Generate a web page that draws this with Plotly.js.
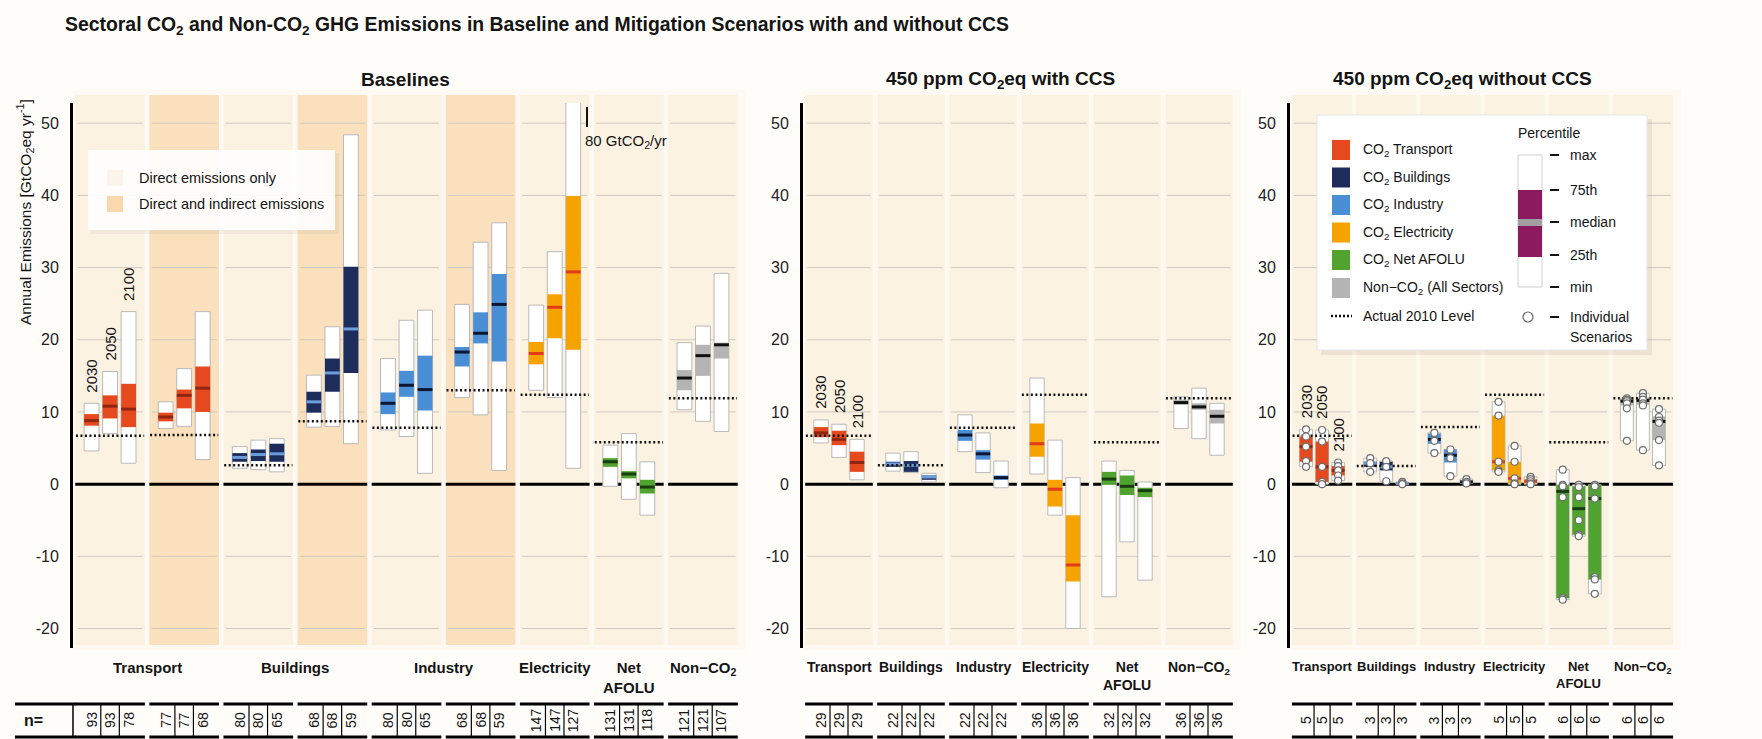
<!DOCTYPE html>
<html><head><meta charset="utf-8">
<script src="https://cdn.plot.ly/plotly-3.0.1.min.js"></script>
<style>html,body{margin:0;padding:0;background:#ffffff}#chart{width:1762px;height:739px}</style>
</head><body><div id="chart"></div>
<script>
// ---------------- DATA ----------------
const years = ['2030', '2050', '2100'];
const yTickVals = [-20, -10, 0, 10, 20, 30, 40, 50];
const yTickText = ['-20', '-10', '0', '10', '20', '30', '40', '50'];

// Baselines (9 groups: direct / direct+indirect)
const baseCategory = ['Transport', 'Transport', 'Buildings', 'Buildings', 'Industry', 'Industry', 'Electricity', 'Net AFOLU', 'Non-CO2'];
const baseIndirect = [false, true, false, true, false, true, false, false, false];
const baseMin = [[4.6, 7.0, 2.9], [7.7, 8.0, 3.4], [2.2, 2.0, 1.7], [7.9, 8.0, 5.6], [7.5, 6.6, 1.5], [12.0, 9.6, 1.9], [13.0, 12.0, 2.2], [-0.3, -2.1, -4.3], [10.3, 8.7, 7.3]];
const baseQ25 = [[8.1, 9.1, 7.9], [8.7, 10.5, 10.0], [3.1, 3.2, 3.1], [9.9, 12.8, 15.4], [9.7, 12.1, 10.2], [16.3, 19.5, 17.0], [16.6, 20.2, 18.6], [2.4, 0.8, -1.3], [13.0, 15.0, 17.4]];
const baseMed = [[8.8, 10.8, 10.4], [9.3, 12.3, 13.3], [3.7, 4.1, 4.2], [11.4, 15.4, 21.5], [11.2, 13.7, 13.1], [18.3, 20.9, 24.9], [18.1, 24.5, 29.4], [3.1, 1.4, -0.4], [14.7, 17.8, 19.3]];
const baseQ75 = [[9.7, 12.3, 13.9], [9.9, 13.1, 16.3], [4.3, 4.8, 5.6], [12.8, 17.4, 30.1], [12.7, 15.7, 17.8], [19.0, 23.8, 29.1], [19.7, 26.3, 39.9], [3.6, 1.8, 0.6], [15.8, 19.3, 19.6]];
const baseMax = [[11.2, 15.6, 23.9], [11.4, 16.0, 23.9], [5.2, 6.1, 6.3], [15.1, 21.8, 48.4], [17.4, 22.7, 24.1], [24.9, 33.5, 36.2], [24.8, 32.2, 80], [5.4, 7.0, 3.1], [19.6, 21.9, 29.2]];
const base2010 = [6.7, 6.8, 2.6, 8.7, 7.8, 13.0, 12.4, 5.8, 11.9];
const baseN = [[93, 93, 78], [77, 77, 68], [80, 80, 65], [68, 68, 59], [80, 80, 65], [68, 68, 59], [147, 147, 127], [131, 131, 118], [121, 121, 107]];

// 450 ppm CO2eq with CCS
const ccsCategory = ['Transport', 'Buildings', 'Industry', 'Electricity', 'Net AFOLU', 'Non-CO2'];
const ccsMin = [[5.7, 3.7, 0.6], [1.8, 1.6, 0.3], [4.5, 1.6, -0.5], [1.4, -4.3, -20.0], [-15.6, -8.0, -13.3], [7.7, 6.3, 4.0]];
const ccsQ25 = [[6.5, 5.4, 1.7], [2.4, 1.7, 0.6], [6.0, 3.4, 0.6], [3.8, -3.1, -13.5], [-0.1, -1.5, -1.8], [11.0, 10.3, 8.4]];
const ccsMed = [[7.1, 6.2, 3.0], [2.8, 2.6, 1.0], [6.8, 4.2, 0.9], [5.6, -0.7, -11.2], [0.7, -0.3, -0.9], [11.3, 10.7, 9.4]];
const ccsQ75 = [[7.9, 7.4, 4.5], [3.1, 3.2, 1.2], [7.5, 4.7, 1.2], [8.4, 0.6, -4.3], [1.7, 1.2, -0.5], [11.7, 11.2, 10.3]];
const ccsMax = [[8.9, 8.3, 6.2], [4.3, 4.5, 1.5], [9.6, 7.1, 3.2], [14.7, 6.1, 0.9], [3.2, 1.9, 0.3], [12.1, 13.3, 11.2]];
const ccs2010 = [6.7, 2.6, 7.8, 12.4, 5.8, 11.9];
const ccsN = [[29, 29, 29], [22, 22, 22], [22, 22, 22], [36, 36, 36], [32, 32, 32], [36, 36, 36]];

// 450 ppm CO2eq without CCS
const nccsCategory = ['Transport', 'Buildings', 'Industry', 'Electricity', 'Net AFOLU', 'Non-CO2'];
const nccsMin = [[2.4, 0.0, 0.5], [1.7, 0.4, 0.0], [4.3, 1.1, 0.1], [1.7, 0.0, 0.0], [-16.0, -7.2, -15.2], [6.0, 4.7, 2.6]];
const nccsQ25 = [[3.1, 0.3, 1.2], [2.4, 1.9, 0.05], [5.6, 3.0, 0.2], [1.9, 0.1, 0.1], [-15.8, -7.0, -13.2], [10.9, 11.0, 6.1]];
const nccsMed = [[5.2, 2.4, 1.9], [2.9, 2.4, 0.1], [6.2, 4.0, 0.3], [3.1, 0.8, 0.4], [-1.0, -3.4, -2.0], [11.5, 11.6, 8.7]];
const nccsQ75 = [[6.6, 5.9, 2.5], [3.1, 3.1, 0.2], [7.0, 4.8, 0.5], [9.5, 3.1, 0.7], [-0.1, -0.3, -0.1], [11.8, 12.0, 9.4]];
const nccsMax = [[7.6, 7.5, 3.0], [3.6, 3.2, 0.3], [7.1, 4.8, 0.7], [11.4, 5.3, 1.0], [2.0, -0.1, -0.1], [11.9, 12.6, 10.4]];
const nccs2010 = [6.7, 2.5, 7.9, 12.4, 5.8, 11.9];
const nccsN = [[5, 5, 5], [3, 3, 3], [3, 3, 3], [5, 5, 5], [6, 6, 6], [6, 6, 6]];
const nccsPoints = [
  [[7.6, 6.6, 5.2, 3.2, 2.4], [7.5, 5.9, 2.4, 0.3, 0.0], [3.0, 2.5, 1.9, 1.2, 0.5]],
  [[3.6, 2.9, 1.7], [3.2, 2.4, 0.4], [0.3, 0.1, 0.0]],
  [[7.1, 6.0, 4.3], [4.8, 3.6, 1.1], [0.7, 0.3, 0.1]],
  [[11.4, 9.5, 3.1, 1.9, 1.7], [5.3, 3.1, 0.8, 0.1, 0.0], [1.0, 0.7, 0.4, 0.1, 0.0]],
  [[2.0, -0.1, -0.3, -1.8, -15.8, -16.0], [-0.1, -0.4, -1.8, -5.0, -7.0, -7.2], [-0.1, -0.3, -2.0, -12.9, -13.2, -15.2]],
  [[11.9, 11.7, 11.5, 11.2, 10.5, 6.0], [12.6, 12.1, 11.7, 11.2, 10.9, 4.7], [10.4, 9.3, 8.8, 8.5, 6.1, 2.6]]
];

const legendSectors = ['CO<sub>2</sub> Transport', 'CO<sub>2</sub> Buildings', 'CO<sub>2</sub> Industry', 'CO<sub>2</sub> Electricity', 'CO<sub>2</sub> Net AFOLU', 'Non\u2212CO<sub>2</sub> (All Sectors)'];
const legendSectorKeys = ['Transport', 'Buildings', 'Industry', 'Electricity', 'Net AFOLU', 'Non-CO2'];
const percentileLabels = ['max', '75th', 'median', '25th', 'min'];

// ---------------- STYLE ----------------
const FONT = "'Liberation Sans', Arial, sans-serif";
const sectorColor = {'Transport': '#e6491d', 'Buildings': '#1c2d5c', 'Industry': '#4a8ed6', 'Electricity': '#f6a300', 'Net AFOLU': '#4fa32e', 'Non-CO2': '#b4b4b4'};
const medianColor = {'Transport': '#8e2612', 'Buildings': '#6c9ddb', 'Industry': '#0d1530', 'Electricity': '#e23a1a', 'Net AFOLU': '#173d10', 'Non-CO2': '#111111'};
const catDisplay = {'Transport': 'Transport', 'Buildings': 'Buildings', 'Industry': 'Industry', 'Electricity': 'Electricity', 'Net AFOLU': 'Net<br>AFOLU', 'Non-CO2': 'Non\u2212CO<sub>2</sub>'};
const GRP_BG = '#fcf2e2', IND_BG = '#fae0bd', GRID_C = '#cfc9c0';
const OFF = [-0.25, 0, 0.25];
const BW = 0.2;
const W = 1762, TOP = 103, BOT = 648;
const px = p => p / W;
const py = p => (BOT - p) / (BOT - TOP);
const Y_RANGE = [-22.7, 52.8];

const panels = [
  {xa: 'x', ya: 'y', dom: [73, 740], cat: baseCategory, ind: baseIndirect, min: baseMin, q25: baseQ25, med: baseMed, q75: baseQ75, max: baseMax, lvl: base2010, n: baseN, pts: null, title: 'Baselines', titleX: 405, catSize: 15},
  {xa: 'x2', ya: 'y2', dom: [803, 1235], cat: ccsCategory, ind: null, min: ccsMin, q25: ccsQ25, med: ccsMed, q75: ccsQ75, max: ccsMax, lvl: ccs2010, n: ccsN, pts: null, title: '450 ppm CO<sub>2</sub>eq with CCS', titleX: 1000, catSize: 14},
  {xa: 'x3', ya: 'y3', dom: [1290, 1675], cat: nccsCategory, ind: null, min: nccsMin, q25: nccsQ25, med: nccsMed, q75: nccsQ75, max: nccsMax, lvl: nccs2010, n: nccsN, pts: nccsPoints, title: '450 ppm CO<sub>2</sub>eq without CCS', titleX: 1462, catSize: 13}
];

const traces = [], shapes = [], annotations = [];
function ann(o) {
  annotations.push(Object.assign({xanchor: 'center', yanchor: 'middle', showarrow: false}, o));
}
function txtFont(size, bold) {
  const f = {size: size, family: FONT, color: '#141414'};
  if (bold) f.weight = 'bold';
  return f;
}
const layout = {
  width: 1762, height: 739,
  margin: {l: 0, r: 0, t: TOP, b: 739 - BOT},
  paper_bgcolor: '#fffdfa', plot_bgcolor: 'rgba(0,0,0,0)',
  barmode: 'overlay', showlegend: false,
  font: {family: FONT, color: '#1a1a1a'},
  shapes: shapes, annotations: annotations
};

panels.forEach((P, pi) => {
  const G = P.cat.length;
  const sfx = pi === 0 ? '' : String(pi + 1);
  layout['xaxis' + sfx] = {domain: [px(P.dom[0]), px(P.dom[1])], range: [-0.5, G - 0.5], visible: false, fixedrange: true, anchor: P.ya};
  layout['yaxis' + sfx] = {domain: [0, 1], range: Y_RANGE, anchor: P.xa, tickvals: yTickVals, ticktext: yTickText,
    showgrid: false, zeroline: false, showline: true, linecolor: '#000', linewidth: 3, ticks: '',
    ticklabelstandoff: 8, tickfont: {size: 16, family: FONT, color: '#222'}, fixedrange: true};

  shapes.push({type: 'rect', xref: 'paper', yref: 'paper', x0: px(P.dom[0]), x1: px(P.dom[1] + 6), y0: py(650), y1: py(90), fillcolor: '#fefaf3', line: {width: 0}, layer: 'below'});

  for (let i = 0; i < G; i++) {
    const bg = (P.ind && P.ind[i]) ? IND_BG : GRP_BG;
    shapes.push({type: 'rect', xref: P.xa, yref: 'paper', x0: i - 0.47, x1: i + 0.47, y0: py(645), y1: py(95), fillcolor: bg, line: {width: 0}, layer: 'below'});
    yTickVals.filter(v => v !== 0).forEach(v => {
      shapes.push({type: 'line', xref: P.xa, yref: P.ya, x0: i - 0.44, x1: i + 0.44, y0: v, y1: v, line: {color: GRID_C, width: 1}, layer: 'below'});
    });
    shapes.push({type: 'line', xref: P.xa, yref: P.ya, x0: i - 0.47, x1: i + 0.47, y0: 0, y1: 0, line: {color: '#000', width: 3}, layer: 'below'});
    [704, 737].forEach(yy => shapes.push({type: 'line', xref: P.xa, yref: 'paper', x0: i - 0.47, x1: i + 0.47, y0: py(yy), y1: py(yy), line: {color: '#000', width: 3}}));
    [-0.125, 0.125].forEach(o => shapes.push({type: 'line', xref: P.xa, yref: 'paper', x0: i + o, x1: i + o, y0: py(704), y1: py(737), line: {color: '#000', width: 1.2}}));
    P.n[i].forEach((nv, j) => ann({xref: P.xa, yref: 'paper', x: i + OFF[j], y: py(720), text: String(nv), textangle: -90, font: txtFont(14, false)}));
  }

  const uniq = [...new Set(P.cat)];
  uniq.forEach(c => {
    const idx = P.cat.map((v, k) => v === c ? k : -1).filter(k => k >= 0);
    const xm = idx.reduce((a, b) => a + b, 0) / idx.length;
    ann({xref: P.xa, yref: 'paper', x: xm, y: py(657), yanchor: 'top', text: catDisplay[c], font: txtFont(P.catSize, true)});
  });

  const xs = [], bMin = [], bRange = [], bQ25 = [], bIQR = [], cols = [];
  const medSeg = {};
  const lvlX = [], lvlY = [];
  const ptX = [], ptY = [];
  for (let i = 0; i < G; i++) {
    for (let j = 0; j < 3; j++) {
      const x = i + OFF[j];
      xs.push(x);
      bMin.push(P.min[i][j]); bRange.push(P.max[i][j] - P.min[i][j]);
      bQ25.push(P.q25[i][j]); bIQR.push(P.q75[i][j] - P.q25[i][j]);
      cols.push(sectorColor[P.cat[i]]);
      const c = P.cat[i];
      if (!medSeg[c]) medSeg[c] = {x: [], y: []};
      medSeg[c].x.push(x - BW / 2, x + BW / 2, null);
      medSeg[c].y.push(P.med[i][j], P.med[i][j], null);
      if (P.pts) P.pts[i][j].forEach(v => { ptX.push(x); ptY.push(v); });
    }
    lvlX.push(i - 0.46, i + 0.46, null); lvlY.push(P.lvl[i], P.lvl[i], null);
  }
  traces.push({type: 'bar', xaxis: P.xa, yaxis: P.ya, x: xs, y: bRange, base: bMin, width: BW,
    marker: {color: '#ffffff', line: {color: '#b9b9b9', width: 1}}, hoverinfo: 'skip'});
  traces.push({type: 'bar', xaxis: P.xa, yaxis: P.ya, x: xs, y: bIQR, base: bQ25, width: BW,
    marker: {color: cols, line: {width: 0}}, hoverinfo: 'skip'});
  Object.keys(medSeg).forEach(c => traces.push({type: 'scatter', mode: 'lines', xaxis: P.xa, yaxis: P.ya, x: medSeg[c].x, y: medSeg[c].y,
    line: {color: medianColor[c], width: 3}, hoverinfo: 'skip'}));
  traces.push({type: 'scatter', mode: 'lines', xaxis: P.xa, yaxis: P.ya, x: lvlX, y: lvlY, line: {color: '#111', width: 2.5, dash: '2px,2.5px'}, hoverinfo: 'skip'});
  if (P.pts) traces.push({type: 'scatter', mode: 'markers', xaxis: P.xa, yaxis: P.ya, x: ptX, y: ptY,
    marker: {symbol: 'circle', size: 7, color: '#ffffff', line: {color: '#6f6f6f', width: 1.2}}, hoverinfo: 'skip'});

  years.forEach((yr, j) => ann({xref: P.xa, yref: P.ya, x: OFF[j], y: P.max[0][j] + 1.2, yanchor: 'bottom', text: yr, textangle: -90, font: txtFont(15, false)}));

  ann({xref: 'paper', yref: 'paper', x: px(P.titleX), y: py(80), text: P.title, font: txtFont(19, true)});
});

shapes.push({type: 'line', xref: 'paper', yref: 'paper', x0: px(15), x1: px(76), y0: py(704), y1: py(704), line: {color: '#000', width: 3}});
shapes.push({type: 'line', xref: 'paper', yref: 'paper', x0: px(15), x1: px(76), y0: py(737), y1: py(737), line: {color: '#000', width: 3}});
shapes.push({type: 'line', xref: 'paper', yref: 'paper', x0: px(73), x1: px(73), y0: py(704), y1: py(737), line: {color: '#000', width: 1.5}});
ann({xref: 'paper', yref: 'paper', x: px(22), y: py(720), xanchor: 'left', text: 'n=', font: txtFont(16, true)});

ann({xref: 'paper', yref: 'paper', x: px(63), y: py(25), xanchor: 'left', text: 'Sectoral CO<sub>2</sub> and Non-CO<sub>2</sub> GHG Emissions in Baseline and Mitigation Scenarios with and without CCS', font: txtFont(19.4, true)});
ann({xref: 'paper', yref: 'paper', x: px(25), y: py(212), text: 'Annual Emissions [GtCO<sub>2</sub>eq yr<sup>-1</sup>]', textangle: -90, font: txtFont(15.5, false)});

shapes.push({type: 'line', xref: 'paper', yref: 'paper', x0: px(587), x1: px(587), y0: py(107), y1: py(127), line: {color: '#111', width: 2}});
ann({xref: 'paper', yref: 'paper', x: px(583), y: py(141), xanchor: 'left', text: '80 GtCO<sub>2</sub>/yr', font: txtFont(15, false)});

// legend 1 (baselines)
shapes.push({type: 'rect', xref: 'paper', yref: 'paper', x0: px(91), x1: px(339), y0: py(234), y1: py(153), fillcolor: 'rgba(120,100,80,0.07)', line: {width: 0}, layer: 'above'});
shapes.push({type: 'rect', xref: 'paper', yref: 'paper', x0: px(88), x1: px(335), y0: py(230), y1: py(150), fillcolor: 'rgba(255,255,255,0.9)', line: {width: 0}, layer: 'above'});
shapes.push({type: 'rect', xref: 'paper', yref: 'paper', x0: px(107), x1: px(123), y0: py(186), y1: py(170), fillcolor: '#fcf4ea', line: {width: 0}, layer: 'above'});
shapes.push({type: 'rect', xref: 'paper', yref: 'paper', x0: px(107), x1: px(123), y0: py(212), y1: py(196), fillcolor: '#fbd8ac', line: {width: 0}, layer: 'above'});
ann({xref: 'paper', yref: 'paper', x: px(137), y: py(178), xanchor: 'left', text: 'Direct emissions only', font: txtFont(14.5, false)});
ann({xref: 'paper', yref: 'paper', x: px(137), y: py(204), xanchor: 'left', text: 'Direct and indirect emissions', font: txtFont(14.5, false)});

// legend 3
shapes.push({type: 'rect', xref: 'paper', yref: 'paper', x0: px(1321), x1: px(1652), y0: py(355), y1: py(119), fillcolor: 'rgba(120,100,80,0.10)', line: {width: 0}, layer: 'above'});
shapes.push({type: 'rect', xref: 'paper', yref: 'paper', x0: px(1317), x1: px(1647), y0: py(350), y1: py(115), fillcolor: '#ffffff', line: {color: '#e6e6e6', width: 1}, layer: 'above'});
const rowY = [150, 177.5, 205, 232.5, 260, 288, 316];
legendSectorKeys.forEach((k, r) => {
  shapes.push({type: 'rect', xref: 'paper', yref: 'paper', x0: px(1332), x1: px(1350), y0: py(rowY[r] + 10), y1: py(rowY[r] - 10), fillcolor: sectorColor[k], line: {width: 0}, layer: 'above'});
  ann({xref: 'paper', yref: 'paper', x: px(1361), y: py(rowY[r]), xanchor: 'left', text: legendSectors[r], font: txtFont(14, false)});
});
shapes.push({type: 'line', xref: 'paper', yref: 'paper', x0: px(1331), x1: px(1352), y0: py(rowY[6]), y1: py(rowY[6]), line: {color: '#111', width: 2.5, dash: '2px,2px'}, layer: 'above'});
ann({xref: 'paper', yref: 'paper', x: px(1361), y: py(rowY[6]), xanchor: 'left', text: 'Actual 2010 Level', font: txtFont(14, false)});
ann({xref: 'paper', yref: 'paper', x: px(1516), y: py(133), xanchor: 'left', text: 'Percentile', font: txtFont(14, false)});
shapes.push({type: 'rect', xref: 'paper', yref: 'paper', x0: px(1518), x1: px(1542), y0: py(287), y1: py(155), fillcolor: '#ffffff', line: {color: '#d0d0d0', width: 1}, layer: 'above'});
shapes.push({type: 'rect', xref: 'paper', yref: 'paper', x0: px(1518), x1: px(1542), y0: py(257), y1: py(190), fillcolor: '#8c1a5e', line: {width: 0}, layer: 'above'});
shapes.push({type: 'rect', xref: 'paper', yref: 'paper', x0: px(1518), x1: px(1542), y0: py(226), y1: py(219), fillcolor: '#a0a0a0', line: {width: 0}, layer: 'above'});
const pctY = [155, 190, 222, 255, 287];
percentileLabels.forEach((t, r) => {
  shapes.push({type: 'line', xref: 'paper', yref: 'paper', x0: px(1550), x1: px(1559), y0: py(pctY[r]), y1: py(pctY[r]), line: {color: '#111', width: 2}, layer: 'above'});
  ann({xref: 'paper', yref: 'paper', x: px(1568), y: py(pctY[r]), xanchor: 'left', text: t, font: txtFont(14, false)});
});
shapes.push({type: 'circle', xref: 'paper', yref: 'paper', x0: px(1523), x1: px(1533), y0: py(322), y1: py(312), fillcolor: '#ffffff', line: {color: '#666', width: 1.2}, layer: 'above'});
shapes.push({type: 'line', xref: 'paper', yref: 'paper', x0: px(1550), x1: px(1559), y0: py(317), y1: py(317), line: {color: '#111', width: 2}, layer: 'above'});
ann({xref: 'paper', yref: 'paper', x: px(1568), y: py(317), xanchor: 'left', text: 'Individual', font: txtFont(14, false)});
ann({xref: 'paper', yref: 'paper', x: px(1568), y: py(337), xanchor: 'left', text: 'Scenarios', font: txtFont(14, false)});

Plotly.newPlot('chart', traces, layout, {staticPlot: true, displayModeBar: false});
</script></body></html>
